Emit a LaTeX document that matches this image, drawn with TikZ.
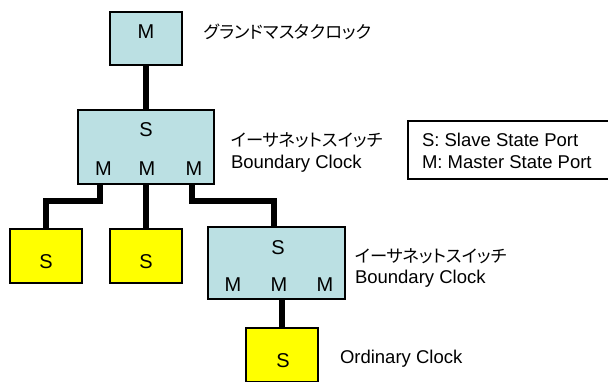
\documentclass[tikz,border=0pt]{standalone}
\usepackage{fontspec}
\setmainfont{Liberation Sans}
\newfontfamily\jpfont[RawFeature=+palt]{Noto Sans CJK JP}
\usetikzlibrary{calc}
\definecolor{swfill}{RGB}{187,224,227}
\definecolor{ocfill}{RGB}{255,255,0}
\tikzset{
  x=1pt, y=1pt,
  every node/.style={font=\fontsize{18.5}{22}\selectfont, inner sep=0pt, outer sep=0pt},
  clockbox/.style={draw=black, line width=1.5pt, minimum width=72pt, minimum height=54pt},
  switchbox/.style={clockbox, fill=swfill},
  endbox/.style={clockbox, fill=ocfill},
  port/.style={anchor=base, font=\fontsize{20}{24}\selectfont},
  lbl/.style={anchor=base west},
  jlbl/.style={anchor=base west, font=\fontsize{17.3}{22}\jpfont},
  link/.style={line width=6pt, line join=miter}
}
\begin{document}
\begin{tikzpicture}
\useasboundingbox (0,0) rectangle (608,381);

% grandmaster
\node[switchbox, minimum height=53pt] (gm) at (146,342.5) {};
\node[port] (gmM) at (146,342) {M};
\node[jlbl] (gmlbl) at (204,342) {グランドマスタクロック};

% first boundary clock
\node[switchbox, minimum width=136pt, minimum height=74pt] (bc1) at (146,234) {};
\node[port] (bc1S) at (146,244) {S};
\node[port] (bc1M1) at (103.5,206) {M};
\node[port] (bc1M2) at (147,206) {M};
\node[port] (bc1M3) at (194,206) {M};
\node[jlbl] (bc1jp) at (231,235) {イーサネットスイッチ};
\node[lbl] (bc1en) at (231,213) {Boundary Clock};

% slave clocks
\node[endbox] (s1) at (46,125) {};
\node[port] (s1S) at (46,113) {S};
\node[endbox] (s2) at (146,125) {};
\node[port] (s2S) at (146,113) {S};

% second boundary clock
\node[switchbox, minimum width=137pt, minimum height=72pt] (bc2) at (276.5,118) {};
\node[port] (bc2S) at (278,127) {S};
\node[port] (bc2M1) at (233,90) {M};
\node[port] (bc2M2) at (279,90) {M};
\node[port] (bc2M3) at (325,90) {M};
\node[jlbl] (bc2jp) at (355,119) {イーサネットスイッチ};
\node[lbl] (bc2en) at (355,98) {Boundary Clock};

% ordinary clock
\node[endbox] (oc) at (282,26) {};
\node[port] (ocS) at (283,14) {S};
\node[lbl] (oclbl) at (340,18) {Ordinary Clock};

% legend
\node[draw=black, line width=1.5pt, minimum width=212pt, minimum height=58pt] (legend) at (514,231) {};
\node[lbl] (legS) at (422,235) {S: Slave State Port};
\node[lbl] (legM) at (422,213) {M: Master State Port};

% links
\draw[link] (gm.south) -- (bc1.north);
\draw[link] ([xshift=-46pt]bc1.south) -- ++(0,-17) -| (s1.north);
\draw[link] (bc1.south) -- (s2.north);
\draw[link] ([xshift=45.5pt]bc1.south) -- ++(0,-17) -| ([xshift=-3pt]bc2.north);
\draw[link] (oc.north) -- (oc.north |- bc2.south);
\end{tikzpicture}
\end{document}
